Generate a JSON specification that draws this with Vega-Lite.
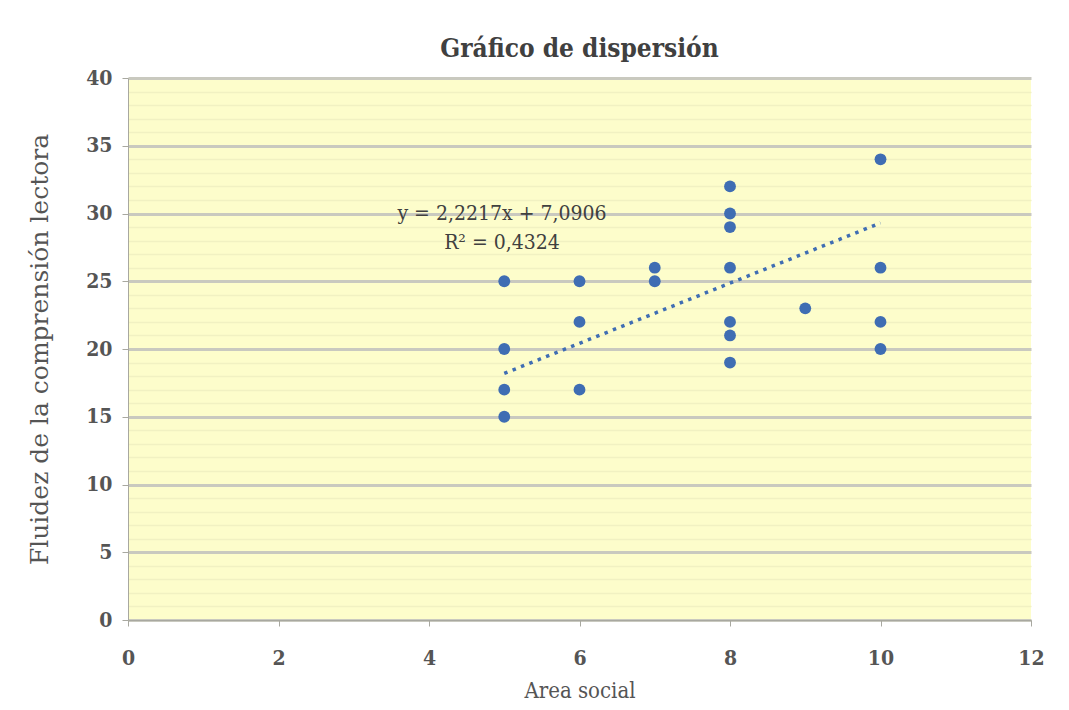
{
  "$schema": "https://vega.github.io/schema/vega-lite/v6.json",
  "autosize": {"type": "none"},
  "width": 903,
  "height": 542,
  "padding": {"left": 128, "top": 78, "right": 38, "bottom": 90},
  "background": "white",
  "title": {
    "text": "Gráfico de dispersión",
    "font": "DejaVu Serif Condensed",
    "fontSize": 26,
    "fontWeight": "bold",
    "color": "#404040",
    "anchor": "middle",
    "offset": 5
  },
  "datasets": {
    "points": [
      {"area": 5, "fluidez": 25}, {"area": 5, "fluidez": 20}, {"area": 5, "fluidez": 17}, {"area": 5, "fluidez": 15},
      {"area": 6, "fluidez": 25}, {"area": 6, "fluidez": 22}, {"area": 6, "fluidez": 17},
      {"area": 7, "fluidez": 26}, {"area": 7, "fluidez": 25},
      {"area": 8, "fluidez": 32}, {"area": 8, "fluidez": 30}, {"area": 8, "fluidez": 29}, {"area": 8, "fluidez": 26},
      {"area": 8, "fluidez": 22}, {"area": 8, "fluidez": 21}, {"area": 8, "fluidez": 19},
      {"area": 9, "fluidez": 23},
      {"area": 10, "fluidez": 34}, {"area": 10, "fluidez": 26}, {"area": 10, "fluidez": 22}, {"area": 10, "fluidez": 20}
    ],
    "trend": [
      {"area": 5, "fluidez": 18.2},
      {"area": 10, "fluidez": 29.3}
    ],
    "labels": [
      {"area": 4.97, "fluidez": 30.0, "label": "y = 2,2217x  + 7,0906"},
      {"area": 4.97, "fluidez": 27.8, "label": "R² = 0,4324"}
    ]
  },
  "layer": [
    {
      "data": {"name": "points"},
      "mark": {"type": "circle", "size": 140, "color": "#3F6DB3", "opacity": 1},
      "encoding": {
        "x": {
          "field": "area", "type": "quantitative",
          "scale": {"domain": [0, 12], "nice": false, "zero": true},
          "axis": {
            "title": "Area social",
            "values": [0, 2, 4, 6, 8, 10, 12],
            "tickCount": 12,
            "format": "d",
            "labelFlush": false,
            "grid": false,
            "domainColor": "#a8a8a0",
            "tickColor": "#a8a8a0",
            "tickSize": 6,
            "labelPadding": 21,
            "labelFont": "DejaVu Serif Condensed",
            "labelFontSize": 21,
            "labelFontWeight": "bold",
            "labelColor": "#555555",
            "titleFont": "DejaVu Serif Condensed",
            "titleFontSize": 22,
            "titleFontWeight": "normal",
            "titleColor": "#555555",
            "titlePadding": 12
          }
        },
        "y": {
          "field": "fluidez", "type": "quantitative",
          "scale": {"domain": [0, 40], "nice": false},
          "axis": {
            "title": "Fluidez de la comprensión lectora",
            "values": [0,1,2,3,4,5,6,7,8,9,10,11,12,13,14,15,16,17,18,19,20,21,22,23,24,25,26,27,28,29,30,31,32,33,34,35,36,37,38,39,40],
            "tickCount": 80,
            "format": "d",
            "labelOverlap": false,
            "labelFlush": false,
            "labelExpr": "datum.value % 5 === 0 ? datum.label : ''",
            "grid": true,
            "gridColor": {"condition": {"test": "datum.value % 5 === 0", "value": "#c9c9bf"}, "value": "#f1f1c2"},
            "gridWidth": {"condition": {"test": "datum.value % 5 === 0", "value": 3}, "value": 1.5},
            "tickOpacity": {"condition": {"test": "datum.value % 5 === 0", "value": 1}, "value": 0},
            "domainColor": "#a8a8a0",
            "tickColor": "#a8a8a0",
            "tickSize": 6,
            "labelPadding": 10,
            "labelFont": "DejaVu Serif Condensed",
            "labelFontSize": 21,
            "labelFontWeight": "bold",
            "labelColor": "#555555",
            "titleFont": "DejaVu Serif",
            "titleFontSize": 25,
            "titleFontWeight": "normal",
            "titleColor": "#555555",
            "titlePadding": 33
          }
        }
      }
    },
    {
      "data": {"name": "trend"},
      "mark": {"type": "line", "color": "#3F6DB3", "strokeWidth": 3.5, "strokeDash": [3.5, 5.5]},
      "encoding": {
        "x": {"field": "area", "type": "quantitative"},
        "y": {"field": "fluidez", "type": "quantitative"}
      }
    },
    {
      "data": {"name": "labels"},
      "mark": {"type": "text", "font": "DejaVu Serif Condensed", "fontSize": 21, "color": "#404040", "align": "center", "baseline": "middle"},
      "encoding": {
        "x": {"field": "area", "type": "quantitative"},
        "y": {"field": "fluidez", "type": "quantitative"},
        "text": {"field": "label"}
      }
    }
  ],
  "config": {
    "view": {"fill": "#FDFDCB", "stroke": null}
  }
}
